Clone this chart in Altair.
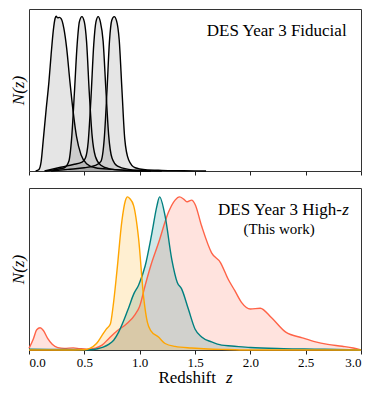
import altair as alt
import pandas as pd

Z_TICKS = [0.0, 0.5, 1.0, 1.5, 2.0, 2.5, 3.0]

# ---- DES Y3 fiducial bins (top panel) ----
fid1_z = [0.06, 0.09, 0.11, 0.13, 0.155, 0.18, 0.20, 0.22, 0.235, 0.245, 0.26, 0.275, 0.29, 0.30, 0.315,
          0.34, 0.37, 0.40, 0.43, 0.47, 0.52, 0.60, 0.75, 0.90, 1.10]
fid1_n = [0.0, 0.01, 0.06, 0.20, 0.38, 0.55, 0.72, 0.87, 0.94, 0.955, 0.945, 0.948, 0.94, 0.925, 0.88,
          0.76, 0.55, 0.36, 0.21, 0.10, 0.045, 0.02, 0.01, 0.004, 0.0]

fid2_z = [0.15, 0.25, 0.32, 0.36, 0.385, 0.41, 0.435, 0.455, 0.478, 0.50, 0.52, 0.545, 0.57, 0.60,
          0.65, 0.72, 0.85, 1.10]
fid2_n = [0.0, 0.01, 0.02, 0.06, 0.20, 0.48, 0.78, 0.92, 0.953, 0.92, 0.80, 0.48, 0.22, 0.09,
          0.035, 0.015, 0.005, 0.0]

fid3_z = [0.14, 0.20, 0.30, 0.40, 0.48, 0.51, 0.535, 0.56, 0.585, 0.605, 0.625, 0.645, 0.67, 0.695,
          0.72, 0.75, 0.80, 0.90, 1.00, 1.20]
fid3_n = [0.0, 0.01, 0.025, 0.04, 0.055, 0.08, 0.18, 0.45, 0.78, 0.92, 0.953, 0.92, 0.80, 0.50,
          0.22, 0.08, 0.03, 0.01, 0.004, 0.0]

fid4_z = [0.20, 0.35, 0.50, 0.60, 0.65, 0.68, 0.705, 0.727, 0.748, 0.77, 0.79, 0.815, 0.84, 0.865,
          0.90, 0.96, 1.05, 1.20, 1.40, 1.60]
fid4_n = [0.0, 0.01, 0.02, 0.035, 0.06, 0.20, 0.50, 0.80, 0.93, 0.953, 0.93, 0.81, 0.50, 0.20,
          0.07, 0.02, 0.008, 0.004, 0.002, 0.0]

# ---- DES Y3 high-z sample (bottom panel) ----
red_z = [0.00, 0.04, 0.07, 0.10, 0.13, 0.17, 0.21, 0.26, 0.32, 0.40, 0.46, 0.52, 0.60, 0.66, 0.72,
         0.80, 0.88, 0.96, 1.00, 1.05, 1.10, 1.17, 1.26, 1.32, 1.36, 1.40, 1.43, 1.47, 1.50, 1.56,
         1.65, 1.73, 1.80, 1.86, 1.92, 2.00, 2.09, 2.19, 2.32, 2.47, 2.59, 2.70, 2.83, 2.93, 3.00]
red_n = [0.01, 0.07, 0.125, 0.137, 0.12, 0.07, 0.035, 0.015, 0.01, 0.013, 0.008, 0.005, 0.012, 0.03, 0.07,
         0.12, 0.16, 0.22, 0.27, 0.40, 0.52, 0.66, 0.85, 0.925, 0.945, 0.93, 0.915, 0.925, 0.90, 0.765,
         0.60, 0.54, 0.437, 0.366, 0.294, 0.253, 0.258, 0.20, 0.11, 0.075, 0.05, 0.035, 0.023, 0.012, 0.0]

teal_z = [0.0, 0.30, 0.55, 0.62, 0.67, 0.72, 0.765, 0.81, 0.855, 0.90, 0.946, 0.99, 1.05, 1.11, 1.156,
          1.18, 1.23, 1.29, 1.34, 1.38, 1.44, 1.50, 1.56, 1.65, 1.74, 1.83, 2.00, 2.30, 2.60, 3.00]
teal_n = [0.005, 0.003, 0.002, 0.008, 0.018, 0.035, 0.06, 0.11, 0.18, 0.26, 0.345, 0.40, 0.52, 0.72, 0.89,
          0.945, 0.826, 0.56, 0.417, 0.376, 0.253, 0.13, 0.08, 0.05, 0.03, 0.025, 0.015, 0.008, 0.005, 0.0]

orange_z = [0.00, 0.30, 0.50, 0.55, 0.61, 0.66, 0.70, 0.735, 0.76, 0.795, 0.84, 0.87, 0.89, 0.91, 0.946,
            0.99, 1.036, 1.07, 1.10, 1.17, 1.23, 1.32, 1.47, 1.62, 1.80, 2.00, 3.00]
orange_n = [0.0, 0.0, 0.002, 0.01, 0.04, 0.09, 0.13, 0.16, 0.27, 0.49, 0.80, 0.92, 0.945, 0.935, 0.89,
            0.69, 0.325, 0.17, 0.12, 0.08, 0.04, 0.022, 0.012, 0.006, 0.003, 0.0, 0.0]

TOP_LABEL = ["DES Year 3 Fiducial"]
BOTTOM_LABEL = ["DES Year 3 High-"]
BOTTOM_LABEL_Z = ["z"]
BOTTOM_SUB = ["(This work)"]
X_TITLE = ["Redshift"]
X_TITLE_Z = ["z"]


def to_long(series):
    rows = []
    for i, (name, zs, ns) in enumerate(series):
        for z, n in zip(zs, ns):
            rows.append({"series": name, "order": i, "z": z, "n": n})
    return pd.DataFrame(rows)


top_df = to_long([("bin1", fid1_z, fid1_n), ("bin2", fid2_z, fid2_n),
                  ("bin3", fid3_z, fid3_n), ("bin4", fid4_z, fid4_n)])
bot_df = to_long([("red", red_z, red_n), ("teal", teal_z, teal_n), ("orange", orange_z, orange_n)])

FONT = "Liberation Serif"
W = 332
H_TOP = 162
H_BOT = 162

xs = alt.Scale(domain=[0, 3], nice=False, zero=False)
ys = alt.Scale(domain=[0, 1], nice=False)

y_axis = alt.Axis(title="N(z)", labels=False, ticks=False, grid=False, domain=False,
                  titleFont=FONT, titleFontStyle="italic", titleFontSize=17,
                  titleFontWeight="normal", titlePadding=2, titleColor="black")

x_top = alt.X("z:Q", scale=xs,
              axis=alt.Axis(values=Z_TICKS, labels=False, title=None, grid=False, domain=False,
                            tickSize=4, tickColor="#222"))
x_bot = alt.X("z:Q", scale=xs,
              axis=alt.Axis(values=Z_TICKS, format=".1f", title=None, grid=False, domain=False,
                            tickSize=4, tickColor="#222", labelFont=FONT, labelFontSize=13,
                            labelColor="black", labelPadding=2))
y_enc = alt.Y("n:Q", scale=ys, axis=y_axis, stack=None)

# top panel
top_area = alt.Chart(top_df).mark_area(interpolate="monotone", color="black", fillOpacity=0.1).encode(
    x=x_top, y=y_enc, detail="series:N")
top_line = alt.Chart(top_df).mark_line(interpolate="monotone", color="black", strokeWidth=1.4).encode(
    x=x_top, y=y_enc, detail="series:N")
top_text = alt.Chart(pd.DataFrame({"t": TOP_LABEL})).mark_text(
    align="right", baseline="middle", font=FONT, fontSize=17, color="black").encode(
    x=alt.datum(2.87), y=alt.datum(0.864), text="t:N")
top = alt.layer(top_area, top_line, top_text).properties(width=W, height=H_TOP)

# bottom panel
cscale = alt.Scale(domain=["red", "teal", "orange"], range=["#ff6347", "#008080", "#ffa500"])
bot_area = alt.Chart(bot_df).mark_area(interpolate="monotone", fillOpacity=0.18).encode(
    x=x_bot, y=y_enc, color=alt.Color("series:N", scale=cscale, legend=None),
    order="order:Q")
bot_line = alt.Chart(bot_df).mark_line(interpolate="monotone", strokeWidth=1.4).encode(
    x=x_bot, y=y_enc, color=alt.Color("series:N", scale=cscale, legend=None))
b1 = alt.Chart(pd.DataFrame({"t": BOTTOM_LABEL})).mark_text(
    align="right", baseline="middle", font=FONT, fontSize=17, color="black", dx=-7).encode(
    x=alt.datum(2.89), y=alt.datum(0.865), text="t:N")
b1z = alt.Chart(pd.DataFrame({"t": BOTTOM_LABEL_Z})).mark_text(
    align="right", baseline="middle", font=FONT, fontSize=17, fontStyle="italic", color="black").encode(
    x=alt.datum(2.89), y=alt.datum(0.865), text="t:N")
b2 = alt.Chart(pd.DataFrame({"t": BOTTOM_SUB})).mark_text(
    align="center", baseline="middle", font=FONT, fontSize=15, color="black").encode(
    x=alt.datum(2.26), y=alt.datum(0.748), text="t:N")
xt = alt.Chart(pd.DataFrame({"t": X_TITLE})).mark_text(
    align="right", baseline="middle", font=FONT, fontSize=17, color="black", dx=21).encode(
    x=alt.datum(1.5), y=alt.value(H_BOT + 28), text="t:N")
xtz = alt.Chart(pd.DataFrame({"t": X_TITLE_Z})).mark_text(
    align="left", baseline="middle", font=FONT, fontSize=17, fontStyle="italic", color="black", dx=31).encode(
    x=alt.datum(1.5), y=alt.value(H_BOT + 28), text="t:N")
bottom = alt.layer(bot_area, bot_line, b1, b1z, b2, xt, xtz).properties(width=W, height=H_BOT)

chart = alt.vconcat(top, bottom, spacing=11).properties(
    padding={"left": 0, "top": 0, "right": 0, "bottom": 0}
).configure_view(stroke="#333", strokeWidth=1)

chart.save("out.html", embed_options={"renderer": "svg", "actions": False})
